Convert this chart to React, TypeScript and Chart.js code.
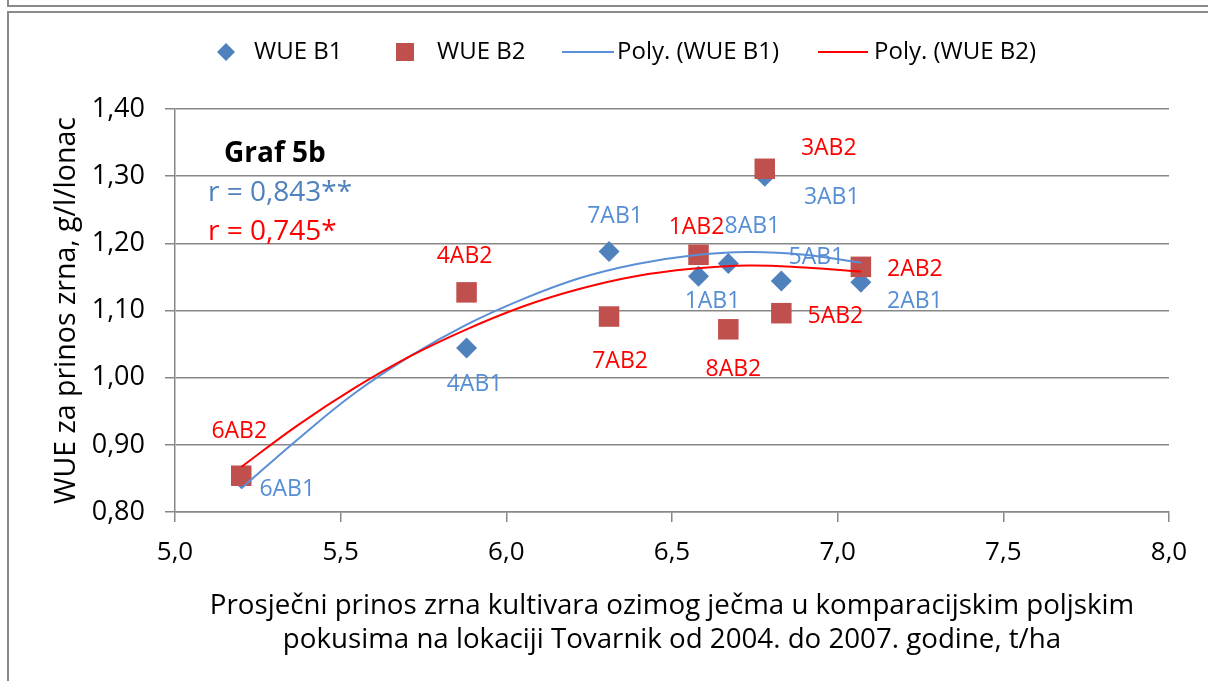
import React, { useEffect, useRef } from 'react';
import { Chart, registerables } from 'chart.js';

Chart.register(...registerables);

// ---------- data ----------
const b1Names = ['6AB1', '4AB1', '7AB1', '1AB1', '8AB1', '3AB1', '5AB1', '2AB1'];
const b1X = [5.20, 5.88, 6.31, 6.58, 6.67, 6.78, 6.83, 7.07];
const b1Y = [0.850, 1.044, 1.188, 1.151, 1.170, 1.300, 1.144, 1.142];

const b2Names = ['6AB2', '4AB2', '7AB2', '1AB2', '8AB2', '3AB2', '5AB2', '2AB2'];
const b2X = [5.20, 5.88, 6.31, 6.58, 6.67, 6.78, 6.83, 7.07];
const b2Y = [0.854, 1.127, 1.091, 1.183, 1.072, 1.311, 1.096, 1.165];

// trend lines (evenly spaced x)
const trendX = [5.20, 5.37, 5.54, 5.71, 5.88, 6.05, 6.22, 6.39, 6.56, 6.73, 6.90, 7.07];
const polyB1 = [0.835, 0.908, 0.976, 1.032, 1.079, 1.117, 1.148, 1.169, 1.182, 1.187, 1.183, 1.171];
const polyB2 = [0.867, 0.929, 0.984, 1.032, 1.072, 1.106, 1.132, 1.151, 1.162, 1.167, 1.164, 1.158];

const xTickValues = [5.0, 5.5, 6.0, 6.5, 7.0, 7.5, 8.0];
const xTickLabels = ['5,0', '5,5', '6,0', '6,5', '7,0', '7,5', '8,0'];
const yTickValues = [0.8, 0.9, 1.0, 1.1, 1.2, 1.3, 1.4];
const yTickLabels = ['0,80', '0,90', '1,00', '1,10', '1,20', '1,30', '1,40'];

const seriesNames = ['WUE B1', 'WUE B2', 'Poly. (WUE B1)', 'Poly. (WUE B2)'];
const xTitle = [
  'Prosječni prinos zrna kultivara ozimog ječma u komparacijskim poljskim',
  'pokusima na lokaciji Tovarnik od 2004. do 2007. godine, t/ha',
];
const yTitle = 'WUE za prinos zrna, g/l/lonac';
const chartTag = 'Graf 5b';
const rB1 = 'r = 0,843**';
const rB2 = 'r = 0,745*';

// ---------- styles ----------
const FONT = '"Open Sans", "Noto Sans", sans-serif';
const blueMarker = '#4F81BD';
const redMarker = '#C0504D';
const blueLine = '#5B8FD5';
const redLine = '#FF0000';
const blueText = '#558ED5';
const redText = '#FF0000';
const gridColor = '#878787';

// label placement (pixel offsets from the point, text centre)
const b1LabelOffset = [[46, 10], [8, 35], [6, -36], [14, 24], [24, -38], [67, 20], [35, -25], [54, 18]];
const b2LabelOffset = [[-2, -46], [-2, -37], [11, 43], [-2, -29], [5, 39], [64, -22], [54, 2], [54, 1]];

const overlayPlugin = {
  id: 'overlay',
  afterDatasetsDraw(chart: any) {
    const ctx = chart.ctx as CanvasRenderingContext2D;
    const xs = chart.scales.x;
    const ys = chart.scales.y;
    ctx.save();
    // point labels
    ctx.font = `23px ${FONT}`;
    ctx.textAlign = 'center';
    ctx.textBaseline = 'alphabetic';
    const capHalf = 8;
    b1Names.forEach((n, i) => {
      ctx.fillStyle = blueText;
      ctx.fillText(n, xs.getPixelForValue(b1X[i]) + b1LabelOffset[i][0], ys.getPixelForValue(b1Y[i]) + b1LabelOffset[i][1] + capHalf);
    });
    b2Names.forEach((n, i) => {
      ctx.fillStyle = redText;
      ctx.fillText(n, xs.getPixelForValue(b2X[i]) + b2LabelOffset[i][0], ys.getPixelForValue(b2Y[i]) + b2LabelOffset[i][1] + capHalf);
    });

    // annotations
    ctx.textAlign = 'left';
    ctx.fillStyle = '#000';
    ctx.font = `bold 28px ${FONT}`;
    ctx.fillText(chartTag, 224, 162);
    ctx.font = `28px ${FONT}`;
    ctx.fillStyle = blueMarker;
    ctx.fillText(rB1, 208, 201);
    ctx.fillStyle = redText;
    ctx.fillText(rB2, 208, 240);

    // legend
    const ly = 52;
    ctx.font = `24px ${FONT}`;
    ctx.textBaseline = 'middle';
    // diamond
    ctx.fillStyle = blueMarker;
    ctx.beginPath();
    ctx.moveTo(226, ly - 9);
    ctx.lineTo(235, ly);
    ctx.lineTo(226, ly + 9);
    ctx.lineTo(217, ly);
    ctx.closePath();
    ctx.fill();
    ctx.fillStyle = '#000';
    ctx.fillText(seriesNames[0], 254, ly);
    // square
    ctx.fillStyle = redMarker;
    ctx.fillRect(396, ly - 9, 18, 18);
    ctx.fillStyle = '#000';
    ctx.fillText(seriesNames[1], 437, ly);
    // blue line
    ctx.strokeStyle = blueLine;
    ctx.lineWidth = 2;
    ctx.beginPath();
    ctx.moveTo(562, ly);
    ctx.lineTo(614, ly);
    ctx.stroke();
    ctx.fillStyle = '#000';
    ctx.fillText(seriesNames[2], 617, ly);
    // red line
    ctx.strokeStyle = redLine;
    ctx.beginPath();
    ctx.moveTo(818, ly);
    ctx.lineTo(868, ly);
    ctx.stroke();
    ctx.fillStyle = '#000';
    ctx.fillText(seriesNames[3], 874, ly);
    ctx.restore();
  },
};

export default function App() {
  const ref = useRef<HTMLCanvasElement | null>(null);

  useEffect(() => {
    document.body.style.margin = '0';
    const canvas = ref.current;
    if (!canvas) return;
    const chart = new Chart(canvas, {
      type: 'scatter',
      data: {
        datasets: [
          {
            label: seriesNames[0],
            data: b1X.map((x, i) => ({ x, y: b1Y[i] })),
            pointStyle: 'rectRot',
            pointRadius: 10.5,
            pointBackgroundColor: blueMarker,
            pointBorderColor: blueMarker,
            pointBorderWidth: 0,
            showLine: false,
            order: 3,
          },
          {
            label: seriesNames[1],
            data: b2X.map((x, i) => ({ x, y: b2Y[i] })),
            pointStyle: 'rect',
            pointRadius: 14.5,
            pointBackgroundColor: redMarker,
            pointBorderColor: redMarker,
            pointBorderWidth: 0,
            showLine: false,
            order: 2,
          },
          {
            label: seriesNames[2],
            data: trendX.map((x, i) => ({ x, y: polyB1[i] })),
            showLine: true,
            borderColor: blueLine,
            borderWidth: 2,
            pointRadius: 0,
            tension: 0.4,
            order: 1,
          },
          {
            label: seriesNames[3],
            data: trendX.map((x, i) => ({ x, y: polyB2[i] })),
            showLine: true,
            borderColor: redLine,
            borderWidth: 2,
            pointRadius: 0,
            tension: 0.4,
            order: 0,
          },
        ],
      },
      options: {
        responsive: false,
        animation: false,
        devicePixelRatio: 1,
        layout: { padding: { top: 109, right: 39, left: 0, bottom: 0 } },
        plugins: {
          legend: { display: false },
          tooltip: { enabled: false },
          title: { display: false },
        },
        scales: {
          x: {
            type: 'linear',
            min: 5,
            max: 8,
            afterBuildTicks: (s: any) => { s.ticks = xTickValues.map((v) => ({ value: v })); },
            afterFit: (s: any) => { s.height = 169; },
            ticks: {
              callback: (_v: any, i: number) => xTickLabels[i],
              font: { family: FONT, size: 26 },
              color: '#000',
              padding: 15,
              maxRotation: 0,
            },
            grid: { drawOnChartArea: false, drawTicks: true, tickLength: 10, color: gridColor, lineWidth: 1.5 },
            border: { display: true, color: gridColor, width: 1.5 },
            title: {
              display: true,
              text: xTitle,
              font: { family: FONT, size: 27.7, lineHeight: 1.23 },
              color: '#000',
              padding: { top: 0, bottom: 24 },
            },
          },
          y: {
            type: 'linear',
            min: 0.8,
            max: 1.4,
            afterBuildTicks: (s: any) => { s.ticks = yTickValues.map((v) => ({ value: v })); },
            afterFit: (s: any) => { s.width = 175; },
            ticks: {
              callback: (_v: any, i: number) => yTickLabels[i],
              font: { family: FONT, size: 27 },
              color: '#000',
              padding: 20,
            },
            grid: { drawTicks: true, tickLength: 10, color: gridColor, lineWidth: 1.5 },
            border: { display: true, color: gridColor, width: 1.5 },
            title: {
              display: true,
              text: yTitle,
              font: { family: FONT, size: 28.5, lineHeight: 1.2 },
              color: '#000',
              padding: { top: 50, bottom: 0 },
            },
          },
        },
      },
      plugins: [overlayPlugin],
    });
    return () => chart.destroy();
  }, []);

  return (
    <div style={{ position: 'absolute', left: 0, top: 0, width: 1208, height: 681, background: '#fff', overflow: 'hidden' }}>
      <div style={{ position: 'absolute', left: 7, top: -20, width: 1300, height: 27, boxSizing: 'border-box', border: '2px solid #8a8a8a' }} />
      <div style={{ position: 'absolute', left: 7, top: 11, width: 1300, height: 720, boxSizing: 'border-box', border: '2px solid #8a8a8a' }} />
      <canvas ref={ref} width={1208} height={681} style={{ position: 'absolute', left: 0, top: 0, width: 1208, height: 681 }} />
    </div>
  );
}
